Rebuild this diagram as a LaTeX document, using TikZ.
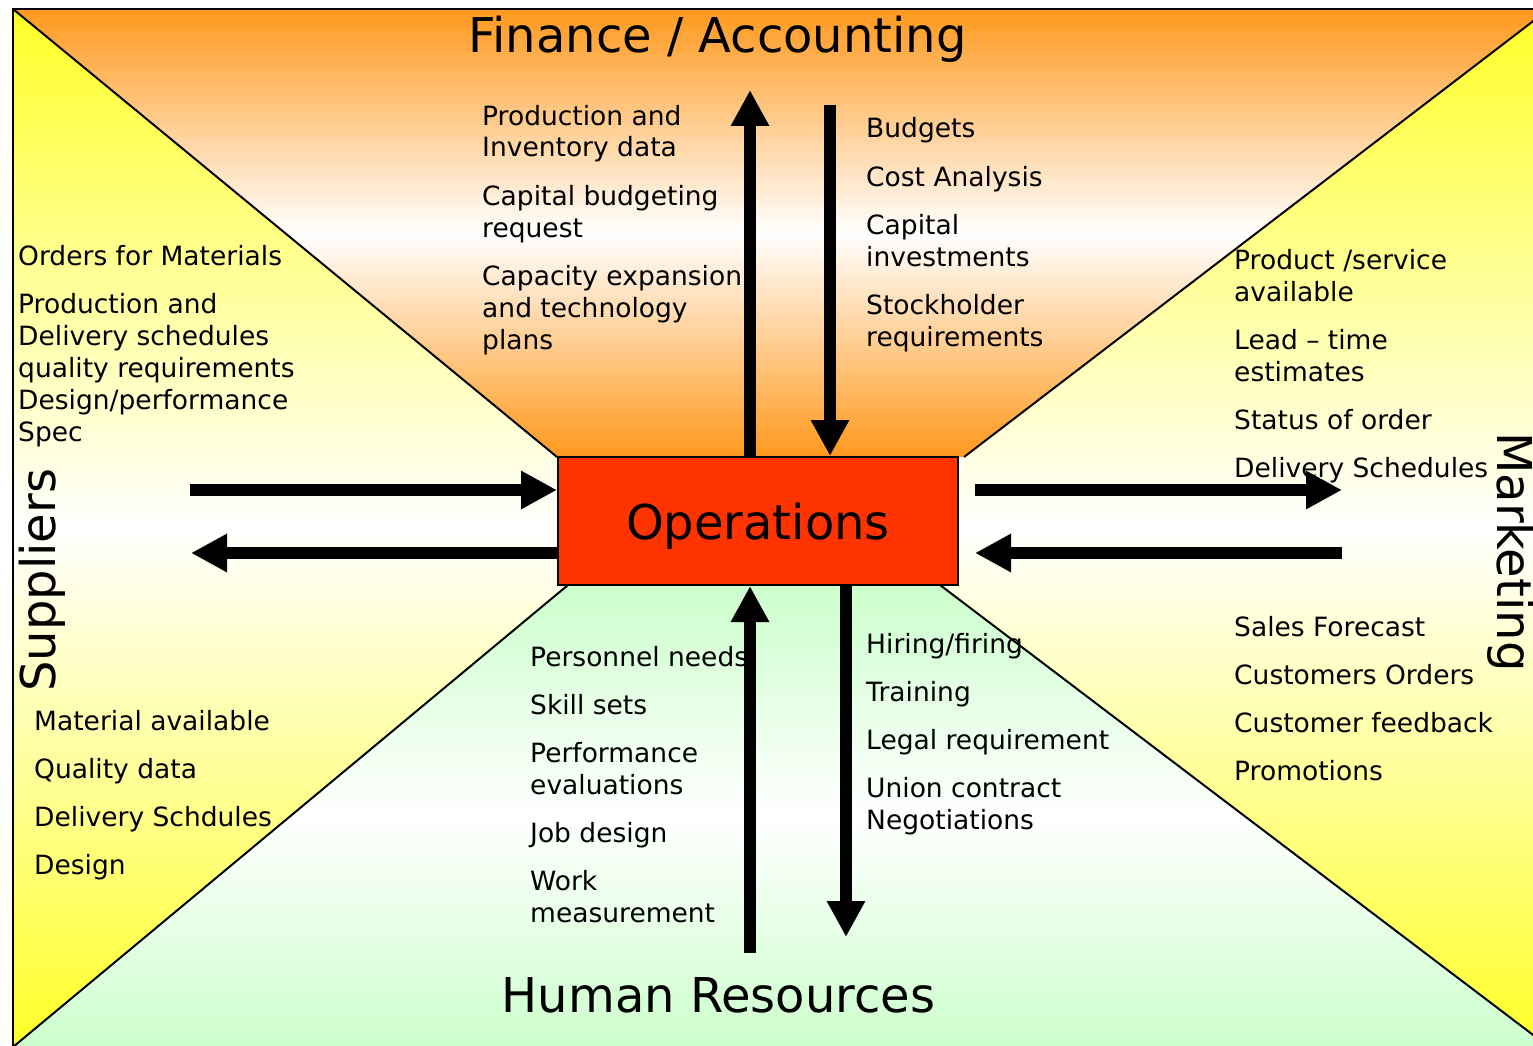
\documentclass[tikz,border=0pt]{standalone}
\usepackage{fontspec}
\setmainfont{DejaVu Sans}
\usetikzlibrary{arrows.meta}
\definecolor{finorange}{RGB}{255,153,30}
\definecolor{supyellow}{RGB}{255,255,40}
\definecolor{hrgreen}{RGB}{204,255,204}
\definecolor{opred}{RGB}{255,51,0}
\newcommand{\bodyf}{\fontsize{26.5}{32}\selectfont}
\newcommand{\titlef}{\fontsize{48}{58}\selectfont}
\newcommand{\ml}[1]{\begin{tabular}[t]{@{}l@{}}#1\end{tabular}}
\begin{document}
\begin{tikzpicture}[x=1pt,y=-1pt,
  txt/.style={font=\bodyf, anchor=base west, inner sep=0pt, text=black},
  ttl/.style={font=\titlef, anchor=base, inner sep=0pt},
  arr/.style={line width=12pt, -{Triangle[width=36pt,length=36pt]}},
  diag/.style={line width=2pt},
  opbox/.style={draw, line width=2pt, fill=opred, minimum width=400pt, minimum height=128pt, inner sep=0pt, font=\titlef, text height=36pt, text depth=0pt}]
\useasboundingbox (0,0) rectangle (1533,1046);
\fill[white] (0,0) rectangle (1533,1046);
% regions
\path[top color=finorange, bottom color=finorange, middle color=white]
  (13,9) -- (1549,9) -- (964,457) -- (557,457) -- cycle;
\path[top color=supyellow, bottom color=supyellow, middle color=white]
  (13,9) -- (557,457) -- (568,585) -- (13,1047) -- cycle;
\path[top color=supyellow, bottom color=supyellow, middle color=white]
  (1549,9) -- (964,457) -- (940,585) -- (1549,1047) -- cycle;
\path[top color=hrgreen, bottom color=hrgreen, middle color=white]
  (568,585) -- (940,585) -- (1549,1047) -- (13,1047) -- cycle;
\draw[diag] (13,9) -- (557,457);
\draw[diag] (1549,9) -- (964,457);
\draw[diag] (568,585) -- (13,1047);
\draw[diag] (940,585) -- (1549,1047);
\draw[line width=2.5pt] (13,9) rectangle (1549,1047);
% centre
\node[opbox] (ops) at (758,521) {Operations};
% titles
\node[ttl] (tfin) at (717.5,53) {Finance / Accounting};
\node[ttl] (thr) at (718.5,1012) {Human Resources};
\node[ttl, anchor=base west, rotate=90] (tsup) at (55,692) {Suppliers};
\node[ttl, anchor=base west, rotate=-90] (tmkt) at (1497,432) {Marketing};
% finance texts
\node[txt] (f1) at (482,125) {\ml{Production and\\Inventory data}};
\node[txt] (f2) at (482,205) {\ml{Capital budgeting\\request}};
\node[txt] (f3) at (482,285) {\ml{Capacity expansion\\and technology\\plans}};
\node[txt] (f4) at (866,138) {Budgets};
\node[txt] (f5) at (866,186) {Cost Analysis};
\node[txt] (f6) at (866,234) {\ml{Capital\\investments}};
\node[txt] (f7) at (866,314) {\ml{Stockholder\\requirements}};
% supplier texts
\node[txt] (s1) at (18,265) {Orders for Materials};
\node[txt] (s2) at (18,313) {\ml{Production and\\Delivery schedules\\quality requirements\\Design/performance\\Spec}};
\node[txt] (s3) at (34,730) {Material available};
\node[txt] (s4) at (34,778) {Quality data};
\node[txt] (s5) at (34,826) {Delivery Schdules};
\node[txt] (s6) at (34,874) {Design};
% marketing texts
\node[txt] (m1) at (1234,269) {\ml{Product /service\\available}};
\node[txt] (m2) at (1234,349) {\ml{Lead -- time\\estimates}};
\node[txt] (m3) at (1234,429) {Status of order};
\node[txt] (m4) at (1234,477) {Delivery Schedules};
\node[txt] (m5) at (1234,636) {Sales Forecast};
\node[txt] (m6) at (1234,684) {Customers Orders};
\node[txt] (m7) at (1234,732) {Customer feedback};
\node[txt] (m8) at (1234,780) {Promotions};
% HR texts
\node[txt] (h1) at (530,666) {Personnel needs};
\node[txt] (h2) at (530,714) {Skill sets};
\node[txt] (h3) at (530,762) {\ml{Performance\\evaluations}};
\node[txt] (h4) at (530,842) {Job design};
\node[txt] (h5) at (530,890) {\ml{Work\\measurement}};
\node[txt] (h6) at (866,653) {Hiring/firing};
\node[txt] (h7) at (866,701) {Training};
\node[txt] (h8) at (866,749) {Legal requirement};
\node[txt] (h9) at (866,797) {\ml{Union contract\\Negotiations}};
% arrow ends
\coordinate (finup) at (750,90);
\coordinate (findown) at (830,105);
\coordinate (hrup) at (750,953);
\coordinate (hrdown) at (846,937);
\coordinate (supin) at (190,490);
\coordinate (supout) at (191,553);
\coordinate (mktoutA) at (975,490);
\coordinate (mktoutB) at (1342,490);
\coordinate (mktinA) at (1342,553);
\coordinate (mktinB) at (975,553);
% arrows
\draw[arr] (ops.north -| finup) -- (finup);
\draw[arr] (findown) -- (ops.north -| findown);
\draw[arr] (hrup) -- (ops.south -| hrup);
\draw[arr] (ops.south -| hrdown) -- (hrdown);
\draw[arr] (supin) -- (supin -| ops.west);
\draw[arr] (supout -| ops.west) -- (supout);
\draw[arr] (mktoutA) -- (mktoutB);
\draw[arr] (mktinA) -- (mktinB);
\end{tikzpicture}
\end{document}
